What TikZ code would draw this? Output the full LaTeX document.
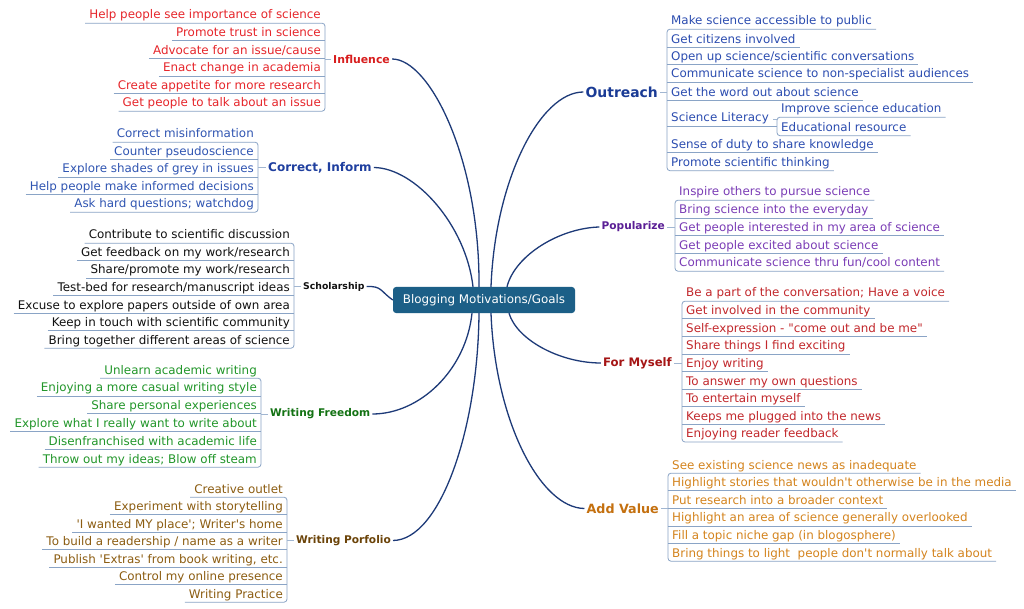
\documentclass[tikz,border=0pt]{standalone}
\usepackage{fontspec}
\setmainfont{DejaVu Sans}[Ligatures=TeXOff]
\definecolor{cInf}{HTML}{E6262B}
\definecolor{lInf}{HTML}{D81E1E}
\definecolor{cCor}{HTML}{3055B2}
\definecolor{lCor}{HTML}{1F3F9F}
\definecolor{cSch}{HTML}{111111}
\definecolor{cWF}{HTML}{22962A}
\definecolor{lWF}{HTML}{137213}
\definecolor{cWP}{HTML}{8C5D12}
\definecolor{lWP}{HTML}{6B4308}
\definecolor{cOut}{HTML}{2C4DB0}
\definecolor{lOut}{HTML}{1A3B95}
\definecolor{cPop}{HTML}{7B3DB6}
\definecolor{lPop}{HTML}{5A1E95}
\definecolor{cMy}{HTML}{C2282C}
\definecolor{lMy}{HTML}{A51515}
\definecolor{cAV}{HTML}{D4841E}
\definecolor{lAV}{HTML}{C4700F}
\definecolor{ulc}{HTML}{8AA4C6}
\definecolor{brc}{HTML}{1D3A78}
\definecolor{ctr}{HTML}{1C5F87}
\begin{document}
\begin{tikzpicture}[x=1pt,y=-1pt,
  leaf/.style={yshift=-2pt, inner xsep=4pt, inner ysep=1.5pt, text height=8.5pt, text depth=2.5pt, font=\fontsize{11.9}{13}\selectfont},
  leafL/.style={leaf, anchor=east},
  leafR/.style={leaf, anchor=west},
  lab/.style={inner xsep=2pt, inner ysep=2pt},
  uline/.style={draw=ulc, line width=0.8pt},
  brk/.style={draw=ulc, line width=0.8pt, rounded corners=3pt},
  stub/.style={draw=ulc!80, line width=0.8pt},
  branch/.style={draw=brc, line width=1.3pt},
  center/.style={fill=ctr, text=white, rounded corners=3pt, minimum width=182pt, minimum height=26pt, inner sep=0pt, font=\fontsize{11.9}{13}\selectfont}
]
\useasboundingbox[fill=white] (0,0) rectangle (1024,609);

\node[center] (c) at (484,300) {Blogging Motivations/Goals};

% ---------- Influence ----------
\foreach \t [count=\k] in {Help people see importance of science, Promote trust in science, Advocate for an issue/cause, Enact change in academia, Create appetite for more research, Get people to talk about an issue}
  \node[leafL, text=cInf] (inf\k) at (325,{14+17.6*(\k-1)}) {\t};
\foreach \k in {2,...,5} \draw[uline] (inf\k.south west) -- (inf\k.south east);
\draw[brk] (inf1.south west) -- (inf1.south east) -- (inf6.south east) -- (inf6.south west);
\node[lab, anchor=west, text=lInf, font=\fontsize{10.9}{12}\selectfont\bfseries] (infl) at (331,59) {Influence};
\draw[stub] (infl.west) -- (infl.west -| inf1.east);

% ---------- Correct, Inform ----------
\foreach \t [count=\k] in {Correct misinformation, Counter pseudoscience, Explore shades of grey in issues, Help people make informed decisions, Ask hard questions; watchdog}
  \node[leafL, text=cCor] (cor\k) at (258,{133+17.5*(\k-1)}) {\t};
\foreach \k in {2,...,4} \draw[uline] (cor\k.south west) -- (cor\k.south east);
\draw[brk] (cor1.south west) -- (cor1.south east) -- (cor5.south east) -- (cor5.south west);
\node[lab, anchor=west, text=lCor, font=\fontsize{12}{13}\selectfont\bfseries] (corl) at (266,167.5) {Correct, Inform};
\draw[stub] (corl.west) -- (corl.west -| cor1.east);

% ---------- Scholarship ----------
\foreach \t [count=\k] in {Contribute to scientific discussion, Get feedback on my work/research, Share/promote my work/research, Test-bed for research/manuscript ideas, Excuse to explore papers outside of own area, Keep in touch with scientific community, Bring together different areas of science}
  \node[leafL, text=cSch] (sch\k) at (294,{234+17.5*(\k-1)}) {\t};
\foreach \k in {2,...,6} \draw[uline] (sch\k.south west) -- (sch\k.south east);
\draw[brk] (sch1.south west) -- (sch1.south east) -- (sch7.south east) -- (sch7.south west);
\node[lab, anchor=west, text=cSch, font=\fontsize{9.3}{11}\selectfont\bfseries] (schl) at (301,286.5) {Scholarship};
\draw[stub] (schl.west) -- (schl.west -| sch1.east);

% ---------- Writing Freedom ----------
\foreach \t [count=\k] in {Unlearn academic writing, Enjoying a more casual writing style, Share personal experiences, Explore what I really want to write about, Disenfranchised with academic life, Throw out my ideas; Blow off steam}
  \node[leafL, text=cWF] (wf\k) at (261,{369+17.8*(\k-1)}) {\t};
\foreach \k in {2,...,5} \draw[uline] (wf\k.south west) -- (wf\k.south east);
\draw[brk] (wf1.south west) -- (wf1.south east) -- (wf6.south east) -- (wf6.south west);
\node[lab, anchor=west, text=lWF, font=\fontsize{10.6}{12}\selectfont\bfseries] (wfl) at (268,414) {Writing Freedom};
\draw[stub] (wfl.west) -- (wfl.west -| wf1.east);

% ---------- Writing Porfolio ----------
\foreach \t [count=\k] in {Creative outlet, Experiment with storytelling, 'I wanted MY place'; Writer's home, To build a readership / name as a writer, {Publish 'Extras' from book writing, etc.}, Control my online presence, Writing Practice}
  \node[leafL, text=cWP] (wp\k) at (287,{488+17.5*(\k-1)}) {\t};
\foreach \k in {2,...,6} \draw[uline] (wp\k.south west) -- (wp\k.south east);
\draw[brk] (wp1.south west) -- (wp1.south east) -- (wp7.south east) -- (wp7.south west);
\node[lab, anchor=west, text=lWP, font=\fontsize{10.6}{12}\selectfont\bfseries] (wpl) at (294,540.5) {Writing Porfolio};
\draw[stub] (wpl.west) -- (wpl.west -| wp1.east);

% ---------- Outreach ----------
\node[leafR, text=cOut] (out1) at (667,20) {Make science accessible to public};
\node[leafR, text=cOut] (out2) at (667,38.5) {Get citizens involved};
\node[leafR, text=cOut] (out3) at (667,55.5) {Open up science/scientific conversations};
\node[leafR, text=cOut] (out4) at (667,73) {Communicate science to non-specialist audiences};
\node[leafR, text=cOut] (out5) at (667,91.5) {Get the word out about science};
\node[leafR, text=cOut] (out6) at (667,117) {Science Literacy};
\node[leafR, text=cOut] (out7) at (667,143.5) {Sense of duty to share knowledge};
\node[leafR, text=cOut] (out8) at (667,161.5) {Promote scientific thinking};
\node[leafR, text=cOut] (sl1) at (777,108) {Improve science education};
\node[leafR, text=cOut] (sl2) at (777,126.5) {Educational resource};
\foreach \k in {2,...,5,7} \draw[uline] (out\k.south west) -- (out\k.south east);
\draw[uline] (out6.south west) -- (out6.south -| sl1.west);
\draw[brk] (out1.south east) -- (out1.south west) -- (out8.south west) -- (out8.south east);
\draw[brk] (sl1.south east) -- (sl1.south west) -- (sl2.south west) -- (sl2.south east);
\draw[stub] (out6.east) -- (out6.east -| sl1.west);
\node[lab, anchor=east, text=lOut, font=\fontsize{13.9}{15}\selectfont\bfseries] (outl) at (660,92) {Outreach};
\draw[stub] (outl.east) -- (outl.east -| out1.west);

% ---------- Popularize ----------
\foreach \t [count=\k] in {Inspire others to pursue science, Bring science into the everyday, Get people interested in my area of science, Get people excited about science, Communicate science thru fun/cool content}
  \node[leafR, text=cPop] (pop\k) at (675,{191+17.75*(\k-1)}) {\t};
\foreach \k in {2,...,4} \draw[uline] (pop\k.south west) -- (pop\k.south east);
\draw[brk] (pop1.south east) -- (pop1.south west) -- (pop5.south west) -- (pop5.south east);
\node[lab, anchor=east, text=lPop, font=\fontsize{10.6}{12}\selectfont\bfseries] (popl) at (667,227) {Popularize};
\draw[stub] (popl.east) -- (popl.east -| pop1.west);

% ---------- For Myself ----------
\foreach \t [count=\k] in {Be a part of the conversation; Have a voice, Get involved in the community, Self-expression - "come out and be me", Share things I find exciting, Enjoy writing, To answer my own questions, To entertain myself, Keeps me plugged into the news, Enjoying reader feedback}
  \node[leafR, text=cMy] (my\k) at (682,{292+17.6*(\k-1)}) {\t};
\foreach \k in {2,...,8} \draw[uline] (my\k.south west) -- (my\k.south east);
\draw[brk] (my1.south east) -- (my1.south west) -- (my9.south west) -- (my9.south east);
\node[lab, anchor=east, text=lMy, font=\fontsize{11.7}{13}\selectfont\bfseries] (myl) at (674,363) {For Myself};
\draw[stub] (myl.east) -- (myl.east -| my1.west);

% ---------- Add Value ----------
\foreach \t [count=\k] in {See existing science news as inadequate, Highlight stories that wouldn't otherwise be in the media, Put research into a broader context, Highlight an area of science generally overlooked, Fill a topic niche gap (in blogosphere), Bring things to light~ people don't normally talk about}
  \node[leafR, text=cAV] (av\k) at (668,{464+17.6*(\k-1)}) {\t};
\foreach \k in {2,...,5} \draw[uline] (av\k.south west) -- (av\k.south east);
\draw[brk] (av1.south east) -- (av1.south west) -- (av6.south west) -- (av6.south east);
\node[lab, anchor=east, text=lAV, font=\fontsize{12.7}{14}\selectfont\bfseries] (avl) at (661,508.5) {Add Value};
\draw[stub] (avl.east) -- (avl.east -| av1.west);

% ---------- branches ----------
\draw[branch] (infl.east) .. controls (430,59) and (480,160) .. ([xshift=-5pt]c.north);
\draw[branch] (corl.east) .. controls (415,168) and (466,225) .. ([xshift=-11pt]c.north);
\draw[branch] (schl.east) .. controls (382,286) and (380,291) .. (c.west);
\draw[branch] (wfl.east) .. controls (420,414) and (466,370) .. ([xshift=-12pt]c.south);
\draw[branch] (wpl.east) .. controls (440,540) and (478,430) .. ([xshift=-5pt]c.south);
\draw[branch] (outl.west) .. controls (540,92) and (495,180) .. ([xshift=7pt]c.north);
\draw[branch] (popl.west) .. controls (560,228) and (515,255) .. ([xshift=23pt]c.north);
\draw[branch] (myl.west) .. controls (560,363) and (517,340) .. ([xshift=25pt]c.south);
\draw[branch] (avl.west) .. controls (540,508) and (495,420) .. ([xshift=7pt]c.south);
\end{tikzpicture}
\end{document}
